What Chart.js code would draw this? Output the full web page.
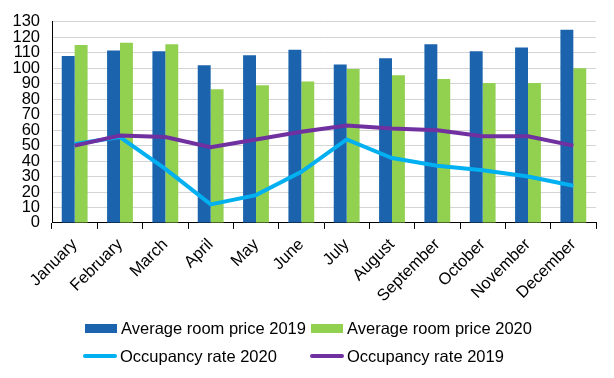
<!DOCTYPE html>
<html>
<head>
<meta charset="utf-8">
<script src="https://cdn.jsdelivr.net/npm/chart.js@4.4.1/dist/chart.umd.min.js"></script>
<style>
  html, body { margin: 0; padding: 0; background: #fff; }
  #wrap { position: relative; width: 614px; height: 378px; }
  canvas { position: absolute; left: 0; top: 0; }
  .legend { position: absolute; left: 0; top: 0; font-family: "Liberation Sans", Arial, sans-serif; font-size: 16.5px; color: #000; }
  .item { position: absolute; display: flex; align-items: center; white-space: nowrap; height: 20px; }
  .box { width: 32px; height: 9px; margin-right: 4px; }
  .ln { width: 34px; height: 4px; border-radius: 2px; margin-right: 3px; }
</style>
</head>
<body>
<div id="wrap">
  <canvas id="c" width="614" height="378"></canvas>
  <div class="legend" id="legend"></div>
</div>
<script>
const months = ["January","February","March","April","May","June","July","August","September","October","November","December"];
const price2019 = [108, 111.5, 111, 102, 108.5, 112, 102.5, 106.5, 115.5, 111, 113.5, 125];
const price2020 = [115, 116.5, 115.5, 86.5, 89, 91.5, 99.5, 95.5, 93, 90.5, 90.5, 100];
const occ2020 = [51, 55.5, 35, 12, 18, 33, 54, 42, 37, 34, 30, 24];
const occ2019 = [50, 56.5, 55.5, 49, 54, 59, 63, 61, 60, 56, 56, 50];
const yTicks = [0,10,20,30,40,50,60,70,80,90,100,110,120,130];

const names = ["Average room price 2019","Average room price 2020","Occupancy rate 2020","Occupancy rate 2019"];
const colors = ["#1B63AD","#92D050","#00B0F0","#7030A0"];
const FONT = "'Liberation Sans', Arial, sans-serif";

const chart = new Chart(document.getElementById('c'), {
  data: {
    labels: months,
    datasets: [
      { type: 'bar', label: names[0], data: price2019, backgroundColor: colors[0], order: 3, categoryPercentage: 0.57, barPercentage: 1 },
      { type: 'bar', label: names[1], data: price2020, backgroundColor: colors[1], order: 3, categoryPercentage: 0.57, barPercentage: 1 },
      { type: 'line', label: names[2], data: occ2020, borderColor: colors[2], backgroundColor: colors[2], borderWidth: 4, pointRadius: 0, tension: 0, order: 2 },
      { type: 'line', label: names[3], data: occ2019, borderColor: colors[3], backgroundColor: colors[3], borderWidth: 4, pointRadius: 0, tension: 0, order: 1 }
    ]
  },
  options: {
    responsive: false,
    animation: false,
    layout: { padding: { left: 0, right: 18, top: 5, bottom: 66 } },
    plugins: { legend: { display: false }, tooltip: { enabled: false } },
    scales: {
      x: {
        offset: true,
        grid: { offset: true, drawOnChartArea: false, drawTicks: true, tickLength: 6, color: '#000', lineWidth: 1 },
        border: { color: '#000', width: 1 },
        ticks: { color: '#000', font: { family: FONT, size: 16.5 }, minRotation: 45, maxRotation: 45, padding: 6, autoSkip: false }
      },
      y: {
        min: 0, max: 130,
        afterBuildTicks: (axis) => { axis.ticks = yTicks.map(v => ({ value: v })); },
        afterFit: (axis) => { axis.width = 52; },
        grid: { color: '#d4d4d4', drawTicks: false, lineWidth: 1 },
        border: { color: '#000', width: 1 },
        ticks: { color: '#000', font: { family: FONT, size: 16.5 }, padding: 12, autoSkip: false }
      }
    }
  }
});

const legend = document.getElementById('legend');
const pos = [
  { x: 85, y: 318, kind: 'box' },
  { x: 311, y: 318, kind: 'box' },
  { x: 83, y: 346, kind: 'ln' },
  { x: 310, y: 346, kind: 'ln' }
];
names.forEach((n, i) => {
  const d = document.createElement('div');
  d.className = 'item';
  d.style.left = pos[i].x + 'px';
  d.style.top = pos[i].y + 'px';
  const m = document.createElement('span');
  m.className = pos[i].kind;
  m.style.background = colors[i];
  const t = document.createElement('span');
  t.textContent = n;
  d.appendChild(m); d.appendChild(t);
  legend.appendChild(d);
});
</script>
</body>
</html>
